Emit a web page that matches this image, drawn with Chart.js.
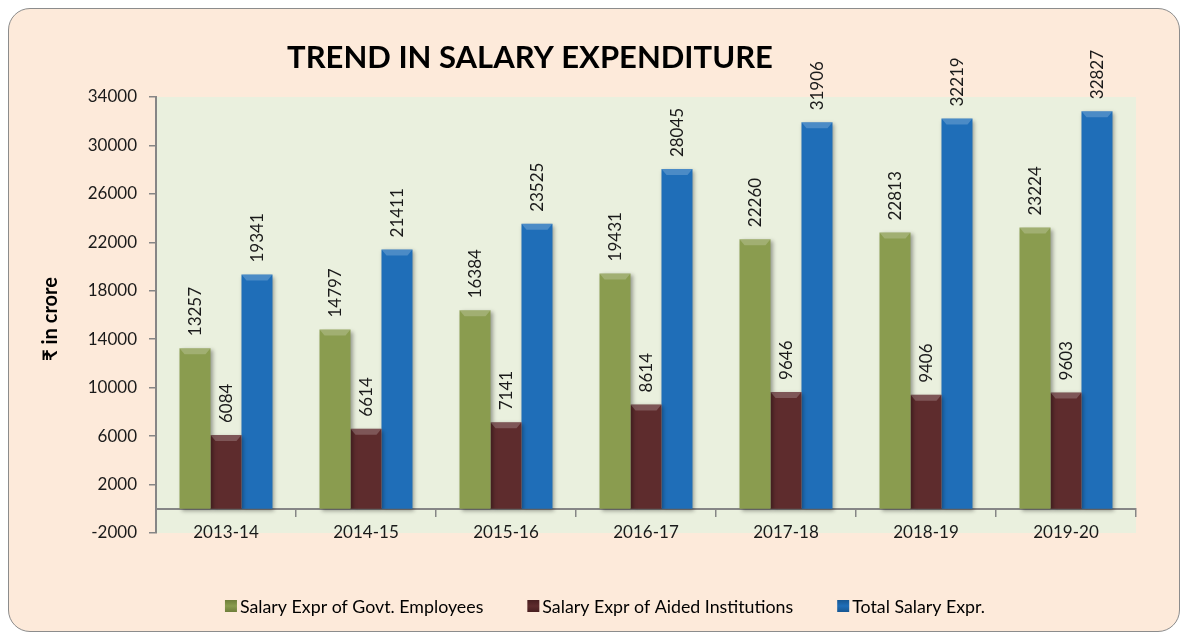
<!DOCTYPE html>
<html>
<head>
<meta charset="utf-8">
<script src="https://cdn.jsdelivr.net/npm/chart.js@4.4.1/dist/chart.umd.min.js"></script>
<style>
  html, body { margin: 0; padding: 0; background: #ffffff; width: 1187px; height: 632px; overflow: hidden; }
  #frame { position: absolute; left: 8px; top: 8px; width: 1172px; height: 624px; background: #FDEADA; border: 1.5px solid #8C8C8C; border-radius: 22px; box-sizing: border-box; }
  #wrap { position: absolute; left: 0; top: 0; width: 1187px; height: 632px; }
</style>
</head>
<body>
<div id="frame"></div>
<div id="wrap"><canvas id="c" width="1187" height="632"></canvas></div>
<script>
const categories = ['2013-14', '2014-15', '2015-16', '2016-17', '2017-18', '2018-19', '2019-20'];
const govtEmployees = [13257, 14797, 16384, 19431, 22260, 22813, 23224];
const aidedInstitutions = [6084, 6614, 7141, 8614, 9646, 9406, 9603];
const totalSalary = [19341, 21411, 23525, 28045, 31906, 32219, 32827];
const seriesNames = ['Salary Expr of Govt. Employees', 'Salary Expr of Aided Institutions', 'Total Salary Expr.'];
const yTicks = [-2000, 2000, 6000, 10000, 14000, 18000, 22000, 26000, 30000, 34000];
const titleText = 'TREND IN SALARY EXPENDITURE';
const yTitleText = '₹ in crore';

const FONT = 'Lato, "Open Sans", "DejaVu Sans", sans-serif';
const baseColors = ['#8A9C4F', '#5E2C2D', '#1F6EB8'];
const edgeColors = ['#6E7E3A', '#481F20', '#175792'];

function barGradient(i) {
  return function(ctx) {
    const el = ctx.element;
    const chart = ctx.chart;
    if (!el || !chart.chartArea || !Number.isFinite(el.x) || !Number.isFinite(el.width)) return baseColors[i];
    const w = el.width;
    const x0 = el.x - w / 2, x1 = el.x + w / 2;
    if (!(x1 > x0)) return baseColors[i];
    const g = chart.ctx.createLinearGradient(x0, 0, x1, 0);
    g.addColorStop(0, edgeColors[i]);
    g.addColorStop(0.12, baseColors[i]);
    g.addColorStop(0.88, baseColors[i]);
    g.addColorStop(1, edgeColors[i]);
    return g;
  };
}

const decor = {
  id: 'decor',
  beforeDraw(chart) {
    const {ctx, chartArea: a} = chart;
    ctx.save();
    ctx.fillStyle = '#EAF0DE';
    ctx.fillRect(a.left, a.top, a.right - a.left, a.bottom - a.top);
    ctx.restore();
  },
  beforeDatasetsDraw(chart) {
    const ctx = chart.ctx;
    ctx.save();
    ctx.shadowColor = 'rgba(0,0,0,0.35)';
    ctx.shadowBlur = 4;
    ctx.shadowOffsetX = 2;
    ctx.shadowOffsetY = 2;
  },
  afterDatasetsDraw(chart) {
    const ctx = chart.ctx;
    ctx.restore();
    chart.data.datasets.forEach((ds, i) => {
      const meta = chart.getDatasetMeta(i);
      meta.data.forEach((bar) => {
        const w = bar.width;
        const x0 = bar.x - w / 2, x1 = bar.x + w / 2;
        ctx.save();
        ctx.fillStyle = 'rgba(255,255,255,0.2)';
        ctx.beginPath();
        ctx.moveTo(x0, bar.y);
        ctx.lineTo(x1, bar.y);
        ctx.lineTo(x1 - 5, bar.y + 6);
        ctx.lineTo(x0 + 5, bar.y + 6);
        ctx.closePath();
        ctx.fill();
        ctx.restore();
      });
    });
    ctx.save();
    ctx.fillStyle = '#1a1a1a';
    ctx.font = '17px ' + FONT;
    ctx.textAlign = 'left';
    ctx.textBaseline = 'middle';
    chart.data.datasets.forEach((ds, i) => {
      const meta = chart.getDatasetMeta(i);
      meta.data.forEach((bar, j) => {
        ctx.save();
        ctx.translate(bar.x + 1, bar.y - 12);
        ctx.rotate(-Math.PI / 2);
        ctx.fillText(String(ds.data[j]), 0, 0);
        ctx.restore();
      });
    });
    ctx.restore();
  },
  afterDraw(chart) {
    const ctx = chart.ctx;
    ctx.save();
    ctx.fillStyle = '#000000';
    ctx.font = 'bold 31px ' + FONT;
    ctx.textAlign = 'center';
    ctx.textBaseline = 'middle';
    ctx.fillText(titleText, 530, 58);
    ctx.save();
    ctx.translate(51, 319);
    ctx.rotate(-Math.PI / 2);
    ctx.font = 'bold 20px ' + FONT;
    ctx.fillText(yTitleText, 0, 0);
    ctx.restore();
    ctx.font = '17.8px ' + FONT;
    ctx.textAlign = 'left';
    ctx.textBaseline = 'middle';
    const boxW = 12, gapBox = 3, gapItem = 44;
    let total = 0;
    const widths = seriesNames.map(n => ctx.measureText(n).width);
    widths.forEach((w, i) => { total += boxW + gapBox + w + (i < widths.length - 1 ? gapItem : 0); });
    let x = 605 - total / 2;
    const y = 606;
    seriesNames.forEach((n, i) => {
      const g = ctx.createLinearGradient(0, y - boxW / 2, 0, y + boxW / 2);
      g.addColorStop(0, edgeColors[i]);
      g.addColorStop(0.5, baseColors[i]);
      g.addColorStop(1, edgeColors[i]);
      ctx.fillStyle = g;
      ctx.fillRect(x, y - boxW / 2, boxW, boxW);
      ctx.fillStyle = '#000000';
      ctx.fillText(n, x + boxW + gapBox, y + 1);
      x += boxW + gapBox + widths[i] + gapItem;
    });
    ctx.restore();
  }
};

new Chart(document.getElementById('c'), {
  type: 'bar',
  data: {
    labels: categories,
    datasets: [
      { label: seriesNames[0], data: govtEmployees, backgroundColor: barGradient(0) },
      { label: seriesNames[1], data: aidedInstitutions, backgroundColor: barGradient(1) },
      { label: seriesNames[2], data: totalSalary, backgroundColor: barGradient(2) }
    ]
  },
  options: {
    responsive: false,
    animation: false,
    devicePixelRatio: 1,
    layout: { padding: { left: 0, right: 51, top: 97, bottom: 99 } },
    datasets: { bar: { categoryPercentage: 0.664, barPercentage: 1.0, borderWidth: 0 } },
    plugins: { legend: { display: false }, title: { display: false }, tooltip: { enabled: false } },
    scales: {
      x: {
        position: { y: 0 },
        offset: true,
        grid: { offset: true, drawOnChartArea: false, tickLength: 7, color: '#868686', lineWidth: 1.5 },
        border: { display: true, color: '#868686', width: 2 },
        ticks: { color: '#1a1a1a', font: { family: FONT, size: 17 }, padding: 7 }
      },
      y: {
        min: -2000,
        max: 34000,
        afterBuildTicks(scale) { scale.ticks = yTicks.map(v => ({ value: v })); },
        afterFit(scale) { scale.width = 156; },
        grid: { drawOnChartArea: false, tickLength: 7, color: '#868686', lineWidth: 1.5 },
        border: { display: true, color: '#868686', width: 2 },
        ticks: { color: '#1a1a1a', font: { family: FONT, size: 17 }, padding: 12, callback: (v) => String(v) }
      }
    }
  },
  plugins: [decor]
});
</script>
</body>
</html>
